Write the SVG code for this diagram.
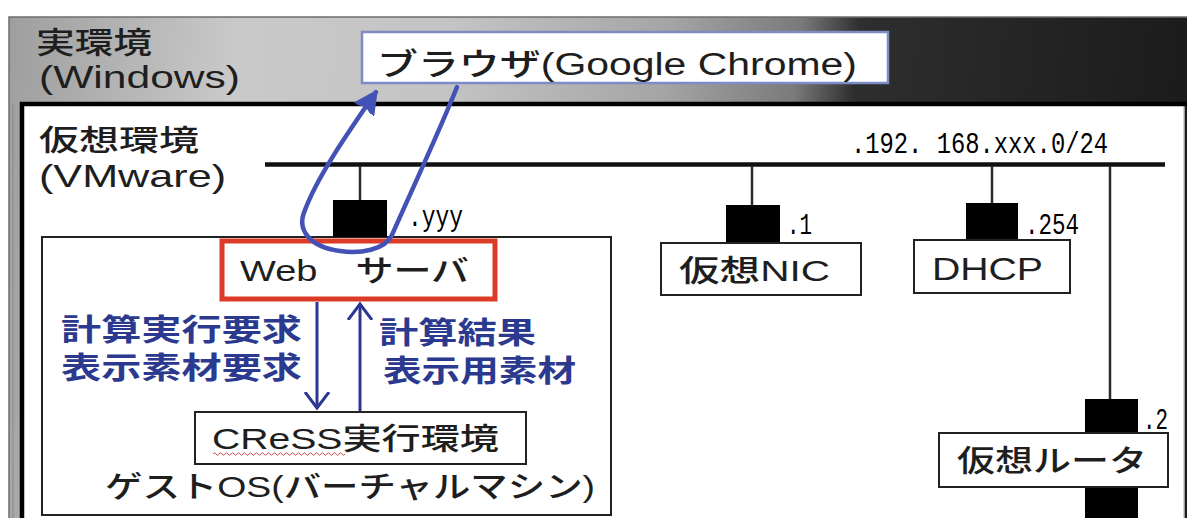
<svg xmlns="http://www.w3.org/2000/svg" width="1187" height="518" viewBox="0 0 1187 518">
<defs>
<linearGradient id="band" gradientUnits="userSpaceOnUse" x1="0" y1="0" x2="1187" y2="120">
<stop offset="0" stop-color="#9c9c9c"/>
<stop offset="0.2" stop-color="#c9c9c9"/>
<stop offset="0.38" stop-color="#c4c4c4"/>
<stop offset="0.56" stop-color="#a5a5a5"/>
<stop offset="0.67" stop-color="#7a7a7a"/>
<stop offset="0.72" stop-color="#2e2e2e"/>
<stop offset="1" stop-color="#1b1b1b"/>
</linearGradient>
<marker id="open" markerUnits="userSpaceOnUse" markerWidth="30" markerHeight="30" refX="16" refY="12" orient="auto" viewBox="0 0 30 24">
<path d="M0,0 L16,12 L0,24" fill="none" stroke="#2d3690" stroke-width="3"/>
</marker>
<marker id="loophead" markerUnits="userSpaceOnUse" markerWidth="24" markerHeight="24" refX="14" refY="8" orient="auto" viewBox="0 0 16 16">
<path d="M0,1 L14,8 L0,15 L3,8 Z" fill="#4452b8" stroke="#4452b8" stroke-width="2" stroke-linejoin="round"/>
</marker>
</defs>
<style>
.t{font-family:"Liberation Sans","Noto Sans CJK JP",sans-serif;fill:#1e1e1e;font-weight:500}
.b{font-family:"Liberation Sans","Noto Sans CJK JP",sans-serif;fill:#2b3a8e;font-weight:bold}
.m{font-family:"Liberation Mono","DejaVu Sans Mono",monospace;fill:#000}
.box{fill:#fff;stroke:#222;stroke-width:2}
.port{fill:#000}
.drop{stroke:#2a2a2a;stroke-width:2.5;fill:none}
.arr{stroke:#2d3690;stroke-width:3;fill:none}
</style>

<g id="real-env">
<rect x="9" y="17" width="1180" height="510" fill="url(#band)" stroke="#6e6e6e" stroke-width="1.5"/>
<line x1="13" y1="104" x2="13" y2="518" stroke="#8a8a8a" stroke-width="1"/>
<text class="t" x="36" y="53" font-size="30" textLength="116" lengthAdjust="spacingAndGlyphs">実環境</text>
<text class="t" x="39" y="88" font-size="32" textLength="201" lengthAdjust="spacingAndGlyphs">(Windows)</text>
</g>

<g id="browser">
<rect x="362" y="32" width="526" height="51" fill="#fff" stroke="#7d8cc4" stroke-width="2.5"/>
<text class="t" x="377" y="75" font-size="31" textLength="480" lengthAdjust="spacingAndGlyphs">ブラウザ(Google Chrome)</text>
</g>

<g id="virtual-env">
<rect x="22" y="104" width="1162" height="420" fill="#fff"/>
<line x1="1184" y1="106" x2="1184" y2="518" stroke="#c8c8c8" stroke-width="1.5"/>
<path d="M22,518 V104 H1187" fill="none" stroke="#000" stroke-width="4.5"/>
<text class="t" x="39" y="151" font-size="29" textLength="160" lengthAdjust="spacingAndGlyphs">仮想環境</text>
<text class="t" x="39" y="187" font-size="32" textLength="187" lengthAdjust="spacingAndGlyphs">(VMware)</text>
</g>

<g id="network">
<line x1="265" y1="164.5" x2="1165" y2="164.5" stroke="#111" stroke-width="4.5"/>
<text class="m" x="851" y="153" font-size="29" textLength="257" lengthAdjust="spacingAndGlyphs">.192. 168.xxx.0/24</text>
</g>

<g id="guest-os">
<rect class="box" x="42" y="237" width="569" height="278"/>
<text class="t" x="105" y="497" font-size="30" textLength="490" lengthAdjust="spacingAndGlyphs">ゲストOS(バーチャルマシン)</text>
</g>

<g id="web-server">
<rect x="333" y="200" width="54" height="37" class="port"/>
<text class="m" x="408" y="226" font-size="29" textLength="55" lengthAdjust="spacingAndGlyphs">.yyy</text>
<rect x="222" y="241" width="273" height="58" fill="#fff" stroke="#dc3b27" stroke-width="5"/>
<text class="t" x="240" y="281" font-size="30" textLength="229" lengthAdjust="spacingAndGlyphs">Web　サーバ</text>
</g>

<g id="cress">
<rect class="box" x="195" y="412" width="331" height="52"/>
<text class="t" x="212" y="449" font-size="30" textLength="287" lengthAdjust="spacingAndGlyphs">CReSS実行環境</text>
<path d="M213,454 q1.5,-2.5 3,0 t3,0 t3,0 t3,0 t3,0 t3,0 t3,0 t3,0 t3,0 t3,0 t3,0 t3,0 t3,0 t3,0 t3,0 t3,0 t3,0 t3,0 t3,0 t3,0 t3,0 t3,0 t3,0 t3,0 t3,0 t3,0 t3,0 t3,0 t3,0 t3,0 t3,0 t3,0 t3,0 t3,0 t3,0 t3,0 t3,0 t3,0 t3,0 t3,0 t3,0 t3,0 t3,0 t3,0" fill="none" stroke="#d85050" stroke-width="1"/>
</g>

<g id="nic">
<rect x="726" y="205" width="54" height="38" class="port"/>
<text class="m" x="787" y="234" font-size="29" textLength="25" lengthAdjust="spacingAndGlyphs">.1</text>
<rect class="box" x="661" y="243" width="200" height="52"/>
<text class="t" x="679" y="281" font-size="30" textLength="151" lengthAdjust="spacingAndGlyphs">仮想NIC</text>
</g>

<g id="dhcp">
<rect x="966" y="203" width="52" height="37" class="port"/>
<text class="m" x="1025" y="234" font-size="29" textLength="54" lengthAdjust="spacingAndGlyphs">.254</text>
<rect class="box" x="914" y="240" width="156" height="53"/>
<text class="t" x="932" y="280" font-size="32" textLength="111" lengthAdjust="spacingAndGlyphs">DHCP</text>
</g>

<g id="router">
<rect x="1085" y="399" width="53" height="36" class="port"/>
<rect x="1085" y="487" width="53" height="31" class="port"/>
<text class="m" x="1143" y="429" font-size="29" textLength="25" lengthAdjust="spacingAndGlyphs">.2</text>
<rect class="box" x="939" y="433" width="229" height="54"/>
<text class="t" x="957" y="471" font-size="30" textLength="190" lengthAdjust="spacingAndGlyphs">仮想ルータ</text>
</g>

<g id="labels">
<text class="b" x="61" y="340" font-size="30" textLength="241" lengthAdjust="spacingAndGlyphs">計算実行要求</text>
<text class="b" x="61" y="378" font-size="30" textLength="241" lengthAdjust="spacingAndGlyphs">表示素材要求</text>
<text class="b" x="379" y="343" font-size="30" textLength="157" lengthAdjust="spacingAndGlyphs">計算結果</text>
<text class="b" x="383" y="381" font-size="30" textLength="193" lengthAdjust="spacingAndGlyphs">表示用素材</text>
</g>

<g id="connectors">
<line class="drop" x1="360" y1="166" x2="360" y2="200"/>
<line class="drop" x1="752" y1="166" x2="752" y2="205"/>
<line class="drop" x1="992" y1="166" x2="992" y2="203"/>
<line class="drop" x1="1110" y1="166" x2="1110" y2="399" stroke="#555" stroke-width="3"/>
<line class="arr" x1="317" y1="302" x2="317" y2="408" marker-end="url(#open)"/>
<line class="arr" x1="360" y1="411" x2="360" y2="304" marker-end="url(#open)"/>
<path d="M457,87 C440,130 405,205 392,235 C385,250 360,254 340,251 C310,247 296,230 305,210 C318,175 350,130 376,92" fill="none" stroke="#4452b8" stroke-width="4.5" stroke-linecap="round" marker-end="url(#loophead)"/>
</g>
</svg>
